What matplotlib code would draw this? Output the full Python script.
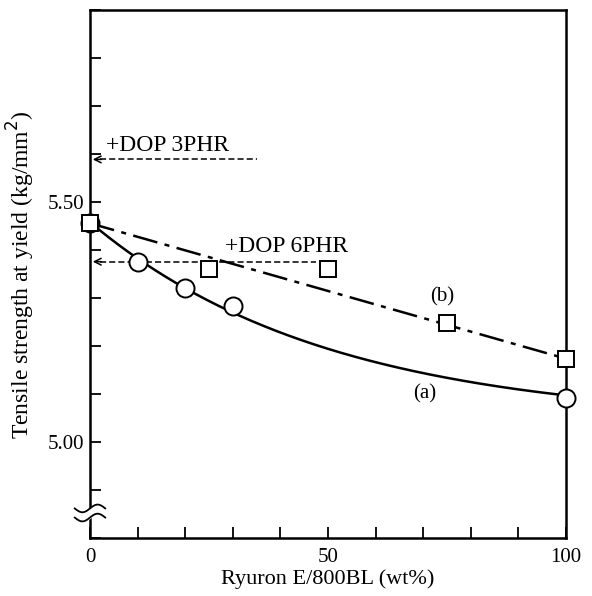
import numpy as np
import matplotlib
matplotlib.use("Agg")
import matplotlib.pyplot as plt
from matplotlib.ticker import MultipleLocator

plt.rcParams['font.family'] = ['Liberation Serif', 'DejaVu Serif']

# (a) circles
xa = [0, 10, 20, 30, 100]
ya = [5.456, 5.376, 5.322, 5.284, 5.091]
# (b) squares
xb = [0, 25, 50, 75, 100]
yb = [5.456, 5.361, 5.361, 5.249, 5.174]
# reference levels with DOP
dop3 = 5.589
dop6 = 5.376

fig = plt.figure(figsize=(5.92, 5.96), dpi=100)
ax = fig.add_axes([0.152, 0.097, 0.804, 0.886])

# smooth trend for (a): least squares fit a + b*exp(-x/50)
xa_ = np.array(xa, float)
A = np.column_stack([np.ones_like(xa_), np.exp(-xa_ / 50)])
coef = np.linalg.lstsq(A, np.array(ya), rcond=None)[0]
xs = np.linspace(0, 100, 300)
ys = coef[0] + coef[1] * np.exp(-xs / 50)
ax.plot(xs, ys, color='black', lw=1.8, zorder=2)
ax.plot(xa, ya, 'o', ms=13, mfc='white', mec='black', mew=1.4, clip_on=False, zorder=3)

# straight dash-dot line for (b)
ax.plot([xb[0], xb[-1]], [yb[0], yb[-1]], color='black', lw=1.8,
        dashes=(10, 3, 2, 3), zorder=2)
ax.plot(xb, yb, 's', ms=11.5, mfc='white', mec='black', mew=1.4, clip_on=False, zorder=4)

# DOP arrows
for lvl, xend in [(dop3, 35), (dop6, 47.5)]:
    ax.plot([2, xend], [lvl, lvl], color='black', lw=1.1, dashes=(4, 2), zorder=1)
    ax.annotate('', xy=(0, lvl), xytext=(3, lvl),
                arrowprops=dict(arrowstyle='->', color='black', lw=1.1,
                                mutation_scale=12))

ax.text(3.3, 5.618, '+DOP 3PHR', fontsize=17, va='center', ha='left')
ax.text(28.3, 5.408, '+DOP 6PHR', fontsize=17, va='center', ha='left')
ax.text(74, 5.303, '(b)', fontsize=15, ha='center', va='center')
ax.text(70.4, 5.100, '(a)', fontsize=15, ha='center', va='center')

ax.set_xlim(0, 100)
ax.set_ylim(4.80, 5.90)
ax.xaxis.set_major_locator(MultipleLocator(50))
ax.xaxis.set_minor_locator(MultipleLocator(10))
ax.set_yticks([5.00, 5.50])
ax.set_yticklabels(['5.00', '5.50'])
ax.yaxis.set_minor_locator(MultipleLocator(0.1))
ax.tick_params(which='both', direction='in', length=8, width=1.3,
               labelsize=15, top=False, right=False)
ax.tick_params(axis='x', pad=7)
ax.tick_params(axis='y', pad=4)

for s in ax.spines.values():
    s.set_linewidth(1.8)

# axis break mark on left spine
t = np.linspace(-3.2, 3.2, 50)
w = 0.008 * np.sin(t / 3.2 * np.pi)
yb1, yb2 = 4.843, 4.862
ax.fill_between(t, yb1 + w, yb2 + w, color='white', clip_on=False, zorder=5)
ax.plot(t, yb1 + w, color='black', lw=1.3, clip_on=False, zorder=6)
ax.plot(t, yb2 + w, color='black', lw=1.3, clip_on=False, zorder=6)

ax.set_xlabel('Ryuron E/800BL (wt%)', fontsize=16, labelpad=2)
ax.set_ylabel('Tensile strength at yield (kg/mm$^2$)', fontsize=17, labelpad=8)

fig.savefig('out.png', dpi=100)
